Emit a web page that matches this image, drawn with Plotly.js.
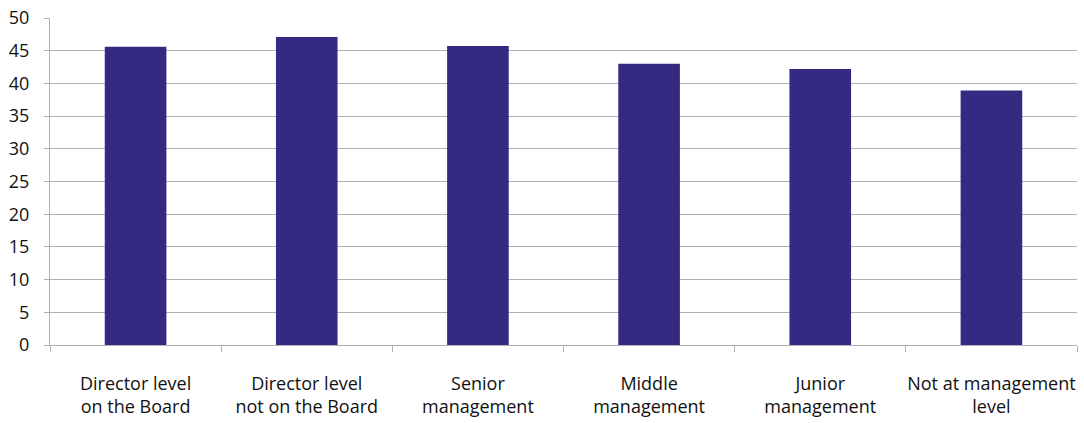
<!DOCTYPE html>
<html>
<head>
<meta charset="utf-8">
<script src="https://cdn.plot.ly/plotly-3.0.1.min.js"></script>
<style>html,body{margin:0;padding:0;background:#fff;}#chart{width:1084px;height:423px;}</style>
</head>
<body>
<div id="chart"></div>
<script>
const categories = [
  "Director level<br>on the Board",
  "Director level<br>not on the Board",
  "Senior<br>management",
  "Middle<br>management",
  "Junior<br>management",
  "Not at management<br>level"
];
const values = [45.6, 47.1, 45.7, 43.0, 42.2, 38.9];
const yTicks = [0, 5, 10, 15, 20, 25, 30, 35, 40, 45, 50];

const trace = {
  type: "bar",
  x: categories,
  y: values,
  marker: {color: "#342a82"},
  hoverinfo: "skip"
};

const layout = {
  width: 1084,
  height: 423,
  margin: {l: 50, r: 7, t: 18, b: 78},
  paper_bgcolor: "#ffffff",
  plot_bgcolor: "#ffffff",
  bargap: 0.64,
  showlegend: false,
  font: {family: "Open Sans, Noto Sans, sans-serif", size: 18, color: "#111111"},
  xaxis: {
    type: "category",
    showgrid: false,
    showline: true,
    linecolor: "#b0b0b0",
    linewidth: 1,
    ticks: "outside",
    tickson: "boundaries",
    ticklen: 6,
    tickcolor: "#b0b0b0",
    tickangle: 0,
    ticklabelstandoff: 22,
    tickfont: {size: 18, color: "#111111"},
    automargin: false,
    zeroline: false
  },
  yaxis: {
    range: [0, 50],
    tickvals: yTicks,
    ticktext: yTicks.map(String),
    showgrid: true,
    gridcolor: "#b0b0b0",
    gridwidth: 1,
    showline: true,
    linecolor: "#b0b0b0",
    ticks: "outside",
    ticklen: 5,
    tickcolor: "#b0b0b0",
    ticklabelstandoff: 11,
    tickfont: {size: 18, color: "#111111"},
    zeroline: false,
    automargin: false
  }
};

Plotly.newPlot("chart", [trace], layout, {displayModeBar: false, staticPlot: true});
</script>
</body>
</html>
